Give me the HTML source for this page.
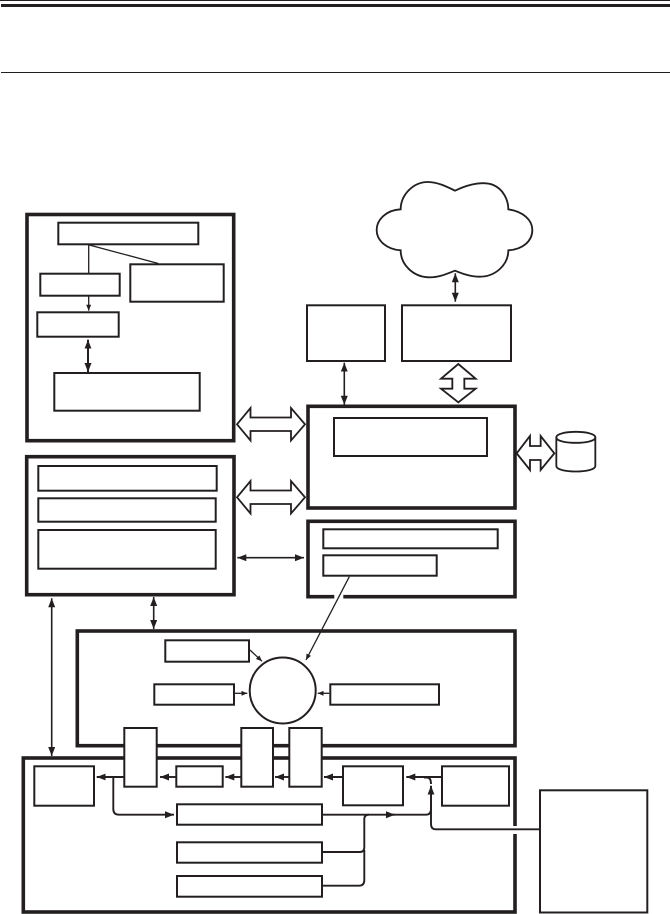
<!DOCTYPE html>
<html><head><meta charset="utf-8"><style>
html,body{margin:0;padding:0;background:#fff}
svg{display:block}
</style></head><body>
<svg width="670" height="914" viewBox="0 0 670 914" xmlns="http://www.w3.org/2000/svg">
<defs>
<marker id="a" markerUnits="userSpaceOnUse" markerWidth="10" markerHeight="8" refX="9" refY="3.5" orient="auto-start-reverse"><path d="M0,0 L9,3.5 L0,7 Z" fill="#231f20"/></marker>
<marker id="s" markerUnits="userSpaceOnUse" markerWidth="7" markerHeight="6" refX="6" refY="2.5" orient="auto-start-reverse"><path d="M0,0 L6,2.5 L0,5 Z" fill="#231f20"/></marker>
</defs>
<rect width="670" height="914" fill="#fff"/>
<rect x="0" y="0" width="670" height="1" fill="#231f20"/>
<rect x="1" y="4" width="669" height="3" fill="#231f20"/>
<rect x="1" y="72" width="669" height="1" fill="#231f20"/>

<g fill="none" stroke="#231f20">
<!-- thick containers -->
<g stroke-width="3.6">
<rect x="27" y="214.5" width="206.7" height="226.2"/>
<rect x="26.7" y="456.7" width="207.3" height="138"/>
<rect x="308" y="406.3" width="207" height="101.7"/>
<rect x="308" y="521.3" width="207" height="75.4"/>
<rect x="77.3" y="631" width="437.7" height="114.7"/>
<rect x="23.3" y="758" width="491.7" height="154"/>
</g>
<rect x="334.3" y="594" width="9" height="5" fill="#fff" stroke="none"/>
<rect x="512" y="826" width="6" height="8" fill="#fff" stroke="none"/>

<!-- inner boxes, box A -->
<g stroke-width="2">
<rect x="58.3" y="222.7" width="140" height="21.6"/>
<rect x="40.3" y="273.7" width="79.4" height="22"/>
<rect x="130.3" y="264.3" width="93.4" height="37.4"/>
<rect x="37.3" y="312.3" width="81.4" height="24.4"/>
<rect x="54.3" y="373" width="145.4" height="37.7"/>
<!-- box E -->
<rect x="38.3" y="466" width="178.4" height="24.7"/>
<rect x="38.3" y="498.3" width="177.4" height="23.4"/>
<rect x="38.3" y="530" width="177.4" height="38.7"/>
<!-- top right -->
<rect x="307" y="305.3" width="78" height="55.7"/>
<rect x="402" y="305.3" width="109" height="55.7"/>
<rect x="334" y="418" width="153" height="38"/>
<!-- box F -->
<rect x="323.3" y="529.3" width="174.4" height="19"/>
<rect x="323.3" y="555.3" width="113.4" height="20.4"/>
<!-- box G -->
<rect x="165.3" y="640.3" width="83.7" height="21.4"/>
<rect x="154.3" y="684.3" width="79.7" height="20.4"/>
<rect x="330.3" y="684.3" width="108.7" height="20.4"/>
<circle cx="282.7" cy="690.5" r="33"/>
<!-- columns -->
<rect x="124.3" y="728" width="32.4" height="58.7" fill="#fff"/>
<rect x="241.3" y="728" width="31.7" height="58.7" fill="#fff"/>
<rect x="289.3" y="728" width="32.4" height="58.7" fill="#fff"/>
<!-- box H -->
<rect x="34.3" y="766.3" width="59.7" height="39.4"/>
<rect x="176.3" y="766.3" width="46.4" height="20.4"/>
<rect x="177" y="804.3" width="145" height="20.4"/>
<rect x="177" y="842.3" width="145" height="20.4"/>
<rect x="177" y="876" width="145" height="20.7"/>
<rect x="343" y="766.3" width="60" height="39"/>
<rect x="442" y="766.3" width="67" height="39.4"/>
<rect x="540" y="790.3" width="107.3" height="122.2"/>
</g>

<!-- cloud & outline arrows & cylinder, in zoom coordinates -->
<g transform="translate(335,170) scale(0.33333)" stroke-width="5.5">
<path d="M360,62 C410,38 450,35 475,45 C505,58 520,90 520,118 C565,125 592,150 592,180 C592,212 565,238 520,241 C520,285 480,322 430,320 C405,320 380,310 360,302 C335,312 310,323 280,322 C235,320 197,285 197,241 C155,238 125,212 125,180 C125,148 155,120 197,118 C197,75 235,35 280,36 C310,37 335,50 360,62 Z"/>
<polygon points="370,582 318,626 352,626 352,656 318,656 370,697 422,656 388,656 388,626 422,626"/>
<polygon points="545,850 585,798 585,828 617,828 617,798 658,850 617,900 617,870 585,870 585,900"/>
<path d="M664,802 C664,780 781,780 781,802 C781,824 664,824 664,802 L664,888 C664,910 781,910 781,888 L781,802"/>
</g>
<g stroke-width="1.8">
<polygon points="237,424.3 250.5,408 250.5,417.5 291,417.5 291,408 305,424.3 291,440.5 291,431 250.5,431 250.5,440.5"/>
<polygon points="237,497.3 250.5,481 250.5,490.5 291,490.5 291,481 305,497.3 291,513.5 291,504 250.5,504 250.5,513.5"/>
</g>

<!-- thin connectors -->
<g stroke-width="1.3">
<path d="M88.7,244.3 V273.7"/>
<path d="M89.3,245 L158.3,263.5"/>
<path d="M88.7,296 V310.7" marker-end="url(#s)"/>
<path d="M349.3,576.7 L306,660" marker-end="url(#s)"/>
<path d="M250,650 L262,661.3" marker-end="url(#s)"/>
<path d="M235,693.3 H247.3" marker-end="url(#s)"/>
<path d="M329.3,693.3 H317.7" marker-end="url(#s)"/>
</g>

<!-- double arrows -->
<g stroke-width="1.6">
<path d="M88,339.7 V372" stroke-width="2" marker-start="url(#a)" marker-end="url(#a)"/>
<path d="M344.3,362.7 V404.7" marker-start="url(#a)" marker-end="url(#a)"/>
<path d="M455.3,273.3 V301.7" marker-start="url(#a)" marker-end="url(#a)"/>
<path d="M237.3,557.7 H304" marker-start="url(#a)" marker-end="url(#a)"/>
<path d="M153.7,597 V629" marker-start="url(#a)" marker-end="url(#a)"/>
<path d="M51.7,598.3 V756" marker-start="url(#a)" marker-end="url(#a)"/>
</g>

<!-- row arrows -->
<g stroke-width="1.9">
<path d="M442,777 H406.3" marker-end="url(#a)"/>
<path d="M343,777 H324" marker-end="url(#a)"/>
<path d="M289,777 H275" marker-end="url(#a)"/>
<path d="M241,777 H225.3" marker-end="url(#a)"/>
<path d="M176,777 H160" marker-end="url(#a)"/>
<path d="M124,777 H96.7" marker-end="url(#a)"/>
<path d="M113.3,777 V809 Q113.3,814.7 119,814.7 H174" marker-end="url(#a)"/>
<path d="M322,814.7 H395" marker-end="url(#a)"/>
<path d="M390,814.7 H426 Q431,814.7 431,809 V785.7" marker-end="url(#a)"/>
<path d="M540,829.3 H436 Q431,829.3 431,824 V786"/>
<path d="M424,777.5 H427 Q431,777.5 431,784"/>
<path d="M322,852 H360 Q364.3,852 364.3,847 V819 Q364.3,814.7 369,814.7"/>
<path d="M322,885.7 H359 Q364.3,885.7 364.3,880 V850"/>
</g>
</g>
</svg>
</body></html>
